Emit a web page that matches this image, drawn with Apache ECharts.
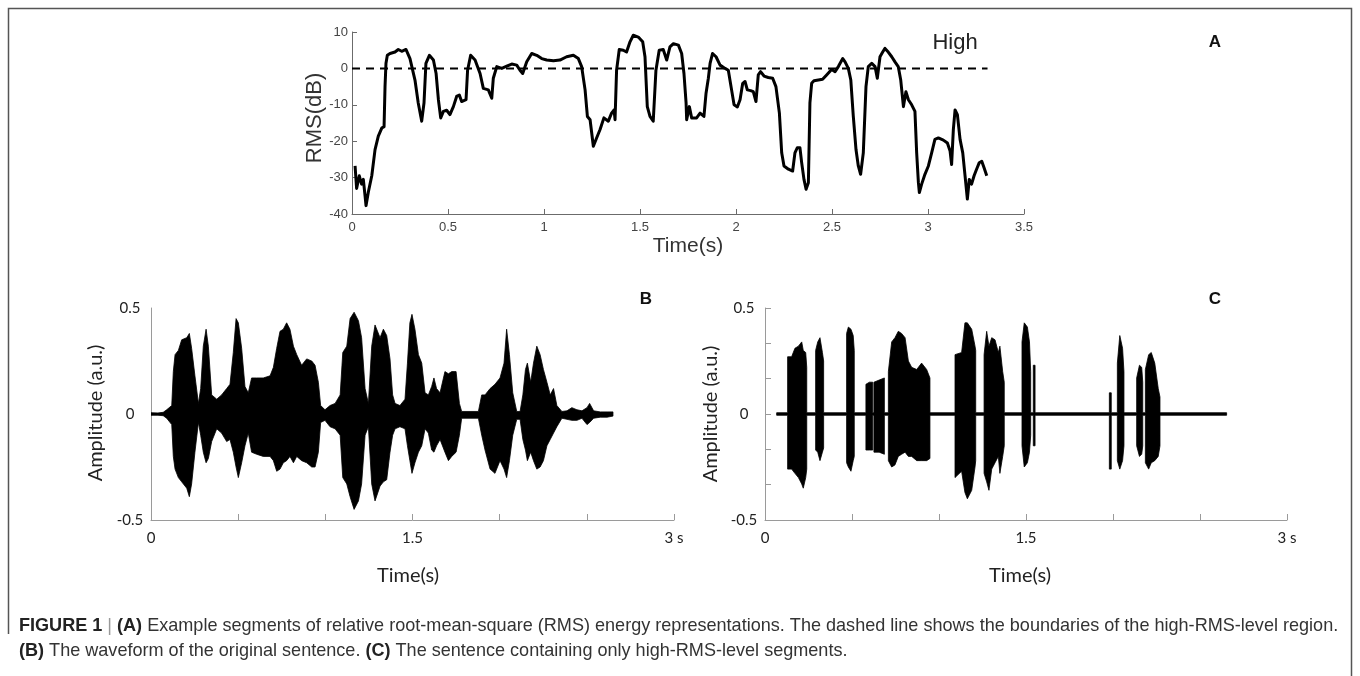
<!DOCTYPE html>
<html><head><meta charset="utf-8">
<script src="https://cdn.jsdelivr.net/npm/echarts@6/dist/echarts.min.js"></script>
<style>html,body{margin:0;padding:0;background:#fff}#c{width:1360px;height:676px}</style>
</head><body><div id="c"></div>
<script>
// ---- Panel A: RMS (dB) over time ----
const rmsTime = [0.016,0.024,0.038,0.05,0.059,0.068,0.073,0.085,0.103,0.12,0.137,0.155,0.167,0.172,0.177,0.184,0.198,0.224,0.241,0.259,0.281,0.302,0.328,0.345,0.363,0.375,0.385,0.403,0.424,0.438,0.45,0.462,0.476,0.493,0.51,0.528,0.545,0.559,0.571,0.594,0.602,0.618,0.641,0.667,0.684,0.71,0.728,0.736,0.754,0.78,0.806,0.832,0.858,0.875,0.889,0.91,0.936,0.962,0.988,1.014,1.049,1.083,1.118,1.153,1.179,1.196,1.214,1.226,1.24,1.257,1.274,1.292,1.312,1.335,1.352,1.365,1.37,1.378,1.392,1.413,1.43,1.448,1.465,1.491,1.514,1.526,1.538,1.552,1.569,1.583,1.6,1.621,1.639,1.656,1.674,1.7,1.717,1.729,1.74,1.743,1.757,1.769,1.795,1.813,1.833,1.844,1.856,1.865,1.878,1.896,1.917,1.943,1.96,1.977,1.99,2.007,2.021,2.035,2.047,2.059,2.076,2.09,2.104,2.116,2.128,2.146,2.168,2.191,2.208,2.226,2.238,2.25,2.273,2.295,2.307,2.319,2.333,2.342,2.354,2.365,2.377,2.385,2.394,2.406,2.429,2.451,2.472,2.498,2.516,2.533,2.556,2.568,2.585,2.598,2.611,2.625,2.637,2.649,2.663,2.677,2.689,2.707,2.724,2.736,2.75,2.764,2.776,2.793,2.811,2.828,2.845,2.858,2.872,2.885,2.898,2.915,2.932,2.941,2.95,2.955,2.967,2.984,3.002,3.019,3.036,3.054,3.08,3.101,3.115,3.123,3.132,3.141,3.153,3.167,3.181,3.193,3.205,3.215,3.227,3.24,3.253,3.267,3.28,3.292,3.306];
const rmsDb = [-26.8,-33,-29.5,-31.8,-30.5,-35,-37.7,-34,-29.5,-22.3,-18.6,-16.4,-16,-5,1.4,3.6,4.1,4.5,5.2,4.7,5.2,2.7,-3.2,-9.5,-14.5,-9.5,1.4,3.6,2.3,-1.4,-8.6,-13.6,-11.8,-11.5,-12.7,-10.5,-7.7,-7.3,-9.1,-8.6,-0.5,3.6,2.3,-1.4,-5.5,-5.9,-8.2,-2.7,0.5,0,0.6,1.2,0.9,-0.5,-1.4,1.8,4.1,3.6,2.7,2.3,2.1,2.3,3.2,3.6,2.7,0.5,-5.9,-13.2,-14.1,-21.4,-19.1,-16.8,-13.6,-14.5,-12.3,-11.4,-14.1,-0.5,5.2,5,4.5,7.3,9.1,8.6,7.3,3.2,-10.5,-13.2,-14.5,-0.5,5,5.2,2.3,5.9,6.8,6.4,4.1,-1.4,-9.5,-14.1,-10.5,-13.6,-13.6,-12.3,-13.2,-6.8,-2.7,1.4,4.1,3.2,0.9,0,-0.5,-5.9,-10,-10.6,-8.6,-4.1,-3.6,-5.9,-6.1,-6.4,-9.1,-1.8,-0.9,-2.1,-2.5,-2.7,-5,-12.3,-23.2,-26.8,-27.7,-28.2,-23.2,-21.8,-21.8,-25.9,-30.5,-33.2,-31.4,-9.5,-4.1,-3.4,-3.2,-3,-1.8,-0.3,-0.9,0.5,2.7,1.8,0,-3.2,-13.2,-22.3,-26.8,-29.1,-23.2,-5,0.5,1.4,0.5,-2.7,3.2,4.5,5.5,4.5,3.2,1.8,0.5,-3.2,-10.5,-6.4,-8.6,-10,-11.8,-23.2,-31.4,-34.1,-31.8,-29.1,-26.8,-23.2,-19.5,-19.1,-19.7,-20.5,-22.7,-26.4,-16.8,-11.4,-12.7,-19.5,-23.2,-29.5,-35.9,-30.5,-31.8,-29.5,-27.7,-25.9,-25.5,-27.3,-29.5];
const highThresholdDb = 0;
const highThresholdSpan = [0, 3.31];
const rmsXTicks = {min: 0, max: 3.5, step: 0.5};
const rmsYTicks = {min: -40, max: 10, step: 10};

// ---- Panel B: original waveform envelope (upper / lower) ----
const bTime  = [0,0.04,0.07,0.09,0.119,0.128,0.138,0.157,0.176,0.205,0.22,0.233,0.252,0.272,0.285,0.3,0.316,0.329,0.348,0.377,0.405,0.434,0.453,0.472,0.488,0.501,0.52,0.539,0.558,0.577,0.606,0.644,0.683,0.702,0.721,0.74,0.759,0.778,0.797,0.817,0.836,0.864,0.893,0.922,0.941,0.96,0.973,0.998,1.027,1.056,1.085,1.1,1.123,1.142,1.165,1.19,1.208,1.228,1.247,1.266,1.285,1.314,1.333,1.352,1.371,1.386,1.4,1.428,1.457,1.471,1.485,1.497,1.514,1.534,1.553,1.572,1.591,1.61,1.623,1.638,1.658,1.686,1.706,1.725,1.75,1.769,1.782,1.83,1.878,1.897,1.916,1.945,1.973,2.002,2.025,2.04,2.056,2.075,2.098,2.117,2.133,2.148,2.159,2.178,2.194,2.213,2.232,2.251,2.271,2.29,2.309,2.328,2.357,2.386,2.414,2.443,2.472,2.501,2.516,2.539,2.577,2.616,2.65];
const bUpper = [0.006,0.005,0.008,0.02,0.04,0.2,0.28,0.30,0.35,0.36,0.38,0.31,0.18,0.05,0.12,0.32,0.40,0.32,0.09,0.07,0.09,0.12,0.14,0.29,0.45,0.43,0.31,0.13,0.10,0.17,0.17,0.17,0.18,0.22,0.31,0.39,0.40,0.43,0.40,0.32,0.28,0.23,0.26,0.25,0.23,0.15,0.04,0.02,0.04,0.05,0.09,0.29,0.32,0.45,0.48,0.44,0.36,0.12,0.05,0.32,0.42,0.36,0.40,0.37,0.26,0.09,0.05,0.04,0.07,0.24,0.43,0.47,0.40,0.28,0.24,0.10,0.09,0.13,0.17,0.12,0.10,0.20,0.19,0.20,0.20,0.05,0.012,0.012,0.012,0.09,0.09,0.12,0.14,0.17,0.24,0.40,0.28,0.10,0.012,0.012,0.09,0.21,0.24,0.15,0.24,0.32,0.28,0.21,0.15,0.09,0.12,0.04,0.012,0.015,0.03,0.02,0.015,0.03,0.05,0.015,0.01,0.01,0.01];
const bLower = [-0.006,-0.006,-0.008,-0.02,-0.05,-0.2,-0.26,-0.30,-0.32,-0.35,-0.39,-0.33,-0.18,-0.04,-0.10,-0.18,-0.23,-0.21,-0.13,-0.07,-0.09,-0.13,-0.12,-0.18,-0.25,-0.30,-0.23,-0.15,-0.09,-0.18,-0.19,-0.20,-0.20,-0.22,-0.27,-0.26,-0.23,-0.22,-0.20,-0.23,-0.20,-0.22,-0.23,-0.25,-0.25,-0.18,-0.04,-0.03,-0.06,-0.07,-0.10,-0.30,-0.33,-0.39,-0.45,-0.41,-0.33,-0.10,-0.06,-0.33,-0.41,-0.34,-0.32,-0.31,-0.18,-0.10,-0.07,-0.06,-0.07,-0.15,-0.22,-0.28,-0.23,-0.18,-0.15,-0.07,-0.09,-0.17,-0.18,-0.15,-0.12,-0.18,-0.22,-0.20,-0.18,-0.10,-0.02,-0.02,-0.02,-0.10,-0.17,-0.26,-0.28,-0.22,-0.26,-0.30,-0.22,-0.10,-0.025,-0.025,-0.12,-0.17,-0.22,-0.18,-0.22,-0.26,-0.25,-0.22,-0.15,-0.12,-0.09,-0.06,-0.02,-0.025,-0.03,-0.03,-0.02,-0.05,-0.04,-0.02,-0.015,-0.015,-0.01];

// ---- Panel C: high-RMS-only waveform envelope (upper / lower) ----
const cTime  = [0.067,0.13,0.13,0.153,0.172,0.192,0.211,0.22,0.234,0.24,0.24,0.291,0.291,0.303,0.316,0.33,0.337,0.337,0.469,0.469,0.479,0.494,0.507,0.513,0.513,0.58,0.58,0.60,0.619,0.619,0.626,0.626,0.656,0.686,0.686,0.709,0.709,0.728,0.747,0.766,0.785,0.805,0.824,0.843,0.872,0.90,0.929,0.948,0.948,1.092,1.092,1.13,1.149,1.163,1.188,1.207,1.211,1.211,1.259,1.259,1.274,1.287,1.303,1.322,1.341,1.35,1.366,1.375,1.375,1.477,1.477,1.49,1.508,1.52,1.527,1.527,1.542,1.542,1.552,1.552,1.979,1.979,1.99,1.99,2.025,2.025,2.039,2.055,2.063,2.063,2.136,2.136,2.152,2.165,2.171,2.171,2.186,2.186,2.205,2.22,2.24,2.26,2.27,2.27,2.653];
const cUpper = [0.006,0.006,0.27,0.27,0.31,0.32,0.34,0.30,0.29,0.22,0.006,0.006,0.30,0.34,0.36,0.29,0.25,0.006,0.006,0.38,0.41,0.40,0.37,0.30,0.006,0.006,0.14,0.15,0.15,0.006,0.006,0.15,0.16,0.17,0.006,0.006,0.20,0.34,0.36,0.39,0.38,0.36,0.25,0.22,0.21,0.24,0.21,0.17,0.006,0.006,0.28,0.29,0.43,0.43,0.40,0.32,0.30,0.006,0.006,0.28,0.39,0.32,0.36,0.35,0.29,0.32,0.20,0.15,0.006,0.006,0.34,0.43,0.41,0.34,0.20,0.006,0.006,0.23,0.23,0.006,0.006,0.10,0.10,0.006,0.006,0.24,0.37,0.31,0.20,0.006,0.006,0.17,0.23,0.22,0.15,0.006,0.006,0.21,0.28,0.29,0.24,0.12,0.08,0.006,0.006];
const cLower = [-0.006,-0.006,-0.26,-0.26,-0.28,-0.30,-0.33,-0.35,-0.30,-0.26,-0.006,-0.006,-0.17,-0.18,-0.22,-0.18,-0.16,-0.006,-0.006,-0.23,-0.25,-0.27,-0.22,-0.20,-0.006,-0.006,-0.17,-0.17,-0.17,-0.006,-0.006,-0.18,-0.18,-0.19,-0.006,-0.006,-0.22,-0.25,-0.24,-0.20,-0.19,-0.18,-0.20,-0.20,-0.22,-0.22,-0.22,-0.21,-0.006,-0.006,-0.30,-0.27,-0.37,-0.40,-0.36,-0.25,-0.22,-0.006,-0.006,-0.28,-0.32,-0.36,-0.26,-0.23,-0.20,-0.28,-0.20,-0.15,-0.006,-0.006,-0.15,-0.25,-0.23,-0.18,-0.10,-0.006,-0.006,-0.15,-0.15,-0.006,-0.006,-0.26,-0.26,-0.006,-0.006,-0.22,-0.26,-0.22,-0.15,-0.006,-0.006,-0.15,-0.20,-0.19,-0.15,-0.006,-0.006,-0.23,-0.26,-0.23,-0.22,-0.20,-0.15,-0.006,-0.006];

// ---- Tick labels for the waveform panels ----
const waveXLabelValues = [0, 1.5, 3];
const waveXLabelTexts  = ['0', '1.5', '3 s'];
const ampLabelValues = [0.5, 0, -0.5];
const ampLabelTexts  = ['0.5', '0', '-0.5'];

// ---- Texts ----
const panelLetters = ['A', 'B', 'C'];
const rmsYName = 'RMS(dB)';
const timeName = 'Time(s)';
const ampName = 'Amplitude (a.u.)';
const highLabel = 'High';
const captionLine1 = '{b|FIGURE 1} {bar||} {b|(A)} Example segments of relative root-mean-square (RMS) energy representations. The dashed line shows the boundaries of the high-RMS-level region.';
const captionLine2 = '{b|(B)} The waveform of the original sentence. {b|(C)} The sentence containing only high-RMS-level segments.';

const zip = (xs, ys) => xs.map((x, i) => [x, ys[i]]);
const pickLabel = (vals, texts) => v => {
  for (let i = 0; i < vals.length; i++) if (Math.abs(v - vals[i]) < 1e-6) return texts[i];
  return '';
};

const chart = echarts.init(document.getElementById('c'), null, {renderer: 'canvas', width: 1360, height: 676});

const aAxisCol = '#6b6b6b';
const wAxisCol = '#9a9a9a';
const armsFont = 'Liberation Sans, Arial, sans-serif';
const waveFont = 'Lato, "Open Sans", sans-serif';
const capFont = '"Liberation Sans", Arial, sans-serif';
const capSize = 19;

// caption horizontal scaling so that line 1 spans the caption width
const capCtx = document.createElement('canvas').getContext('2d');
capCtx.font = capSize + 'px "Liberation Sans"';
const capPlain = captionLine1.replace(/\{\w+\|([^}]*)\}/g, '$1');
const capScale = 1338 / (capCtx.measureText(capPlain).width * 1.015);

const waveX = (gi) => ({
  type: 'value', gridIndex: gi, min: 0, max: 3, interval: 0.5,
  axisLine: {show: true, onZero: false, lineStyle: {color: wAxisCol, width: 1}},
  axisTick: {show: true, inside: true, length: 6, lineStyle: {color: wAxisCol}},
  axisLabel: {show: true, formatter: pickLabel(waveXLabelValues, waveXLabelTexts), fontFamily: waveFont, fontSize: 15, color: '#222', margin: 11, showMinLabel: true, showMaxLabel: true},
  splitLine: {show: false}
});
const waveY = (gi, interval, ticks) => ({
  type: 'value', gridIndex: gi, min: -0.5, max: 0.5, interval: interval,
  axisLine: {show: true, onZero: false, lineStyle: {color: wAxisCol, width: 1}},
  axisTick: {show: ticks, inside: true, length: 6, lineStyle: {color: wAxisCol}},
  axisLabel: {show: true, formatter: pickLabel(ampLabelValues, ampLabelTexts), fontFamily: waveFont, fontSize: 15, color: '#222', margin: 21, align: 'center', showMinLabel: true, showMaxLabel: true},
  splitLine: {show: false}
});
// filled envelope: upper points forward, lower points backward, all through the axis scales
const envSeries = (axis, t, up, lo) => ({
  type: 'custom', xAxisIndex: axis, yAxisIndex: axis,
  data: t.map((x, i) => [x, up[i], lo[i]]),
  encode: {x: 0, y: [1, 2]},
  silent: true, clip: true,
  renderItem: (params, api) => {
    if (params.dataIndex !== 0) return null;
    const pts = [];
    for (let i = 0; i < t.length; i++) pts.push(api.coord([t[i], up[i]]));
    for (let i = t.length - 1; i >= 0; i--) pts.push(api.coord([t[i], lo[i]]));
    return {type: 'polygon', shape: {points: pts}, style: {fill: '#000', stroke: '#000', lineWidth: 0.8, lineJoin: 'round'}};
  }
});

const option = {
  backgroundColor: '#fff',
  animation: false,
  grid: [
    {left: 352, top: 32, width: 672, height: 182},
    {left: 151, top: 308, width: 523, height: 212},
    {left: 765, top: 308, width: 522, height: 212}
  ],
  xAxis: [
    {type: 'value', gridIndex: 0, min: rmsXTicks.min, max: rmsXTicks.max, interval: rmsXTicks.step,
     axisLine: {show: true, onZero: false, lineStyle: {color: aAxisCol, width: 1}},
     axisTick: {show: true, inside: true, length: 5, lineStyle: {color: aAxisCol}},
     axisLabel: {fontFamily: armsFont, fontSize: 13, color: '#444', margin: 7},
     splitLine: {show: false}},
    waveX(1), waveX(2)
  ],
  yAxis: [
    {type: 'value', gridIndex: 0, min: rmsYTicks.min, max: rmsYTicks.max, interval: rmsYTicks.step,
     axisLine: {show: true, onZero: false, lineStyle: {color: aAxisCol, width: 1}},
     axisTick: {show: true, inside: true, length: 5, lineStyle: {color: aAxisCol}},
     axisLabel: {fontFamily: armsFont, fontSize: 13, color: '#444', margin: 4},
     splitLine: {show: false}},
    waveY(1, 0.5, false),
    waveY(2, 1 / 6, true)
  ],
  series: [
    {type: 'line', xAxisIndex: 0, yAxisIndex: 0, data: zip(highThresholdSpan, highThresholdSpan.map(() => highThresholdDb)),
     symbol: 'none', lineStyle: {color: '#000', width: 2, type: [8, 6]}, silent: true, z: 2},
    {type: 'line', xAxisIndex: 0, yAxisIndex: 0, data: zip(rmsTime, rmsDb),
     symbol: 'none', showSymbol: false, lineStyle: {color: '#000', width: 3, join: 'round'}, silent: true, z: 3},
    envSeries(1, bTime, bUpper, bLower),
    envSeries(2, cTime, cUpper, cLower)
  ],
  graphic: [
    {type: 'polyline', shape: {points: [[8.5, 634], [8.5, 8.5], [1351.5, 8.5], [1351.5, 676]]}, style: {stroke: '#555', lineWidth: 1.5, fill: null}, silent: true},
    {type: 'text', x: 315, y: 118, rotation: Math.PI / 2, style: {text: rmsYName, fontFamily: armsFont, fontSize: 22, fill: '#333', align: 'center', verticalAlign: 'middle'}},
    {type: 'text', x: 688, y: 246, style: {text: timeName, fontFamily: armsFont, fontSize: 21, fill: '#333', align: 'center', verticalAlign: 'middle'}},
    {type: 'text', x: 955, y: 43, style: {text: highLabel, fontFamily: armsFont, fontSize: 22, fill: '#222', align: 'center', verticalAlign: 'middle'}},
    {type: 'text', x: 1215, y: 42, style: {text: panelLetters[0], fontFamily: armsFont, fontSize: 17, fontWeight: 'bold', fill: '#111', align: 'center', verticalAlign: 'middle'}},
    {type: 'text', x: 96, y: 413, rotation: Math.PI / 2, style: {text: ampName, fontFamily: waveFont, fontSize: 20, fill: '#222', align: 'center', verticalAlign: 'middle'}},
    {type: 'text', x: 408, y: 576, style: {text: timeName, fontFamily: waveFont, fontSize: 20, fill: '#222', align: 'center', verticalAlign: 'middle'}},
    {type: 'text', x: 646, y: 299, style: {text: panelLetters[1], fontFamily: armsFont, fontSize: 17, fontWeight: 'bold', fill: '#111', align: 'center', verticalAlign: 'middle'}},
    {type: 'text', x: 711, y: 414, rotation: Math.PI / 2, style: {text: ampName, fontFamily: waveFont, fontSize: 20, fill: '#222', align: 'center', verticalAlign: 'middle'}},
    {type: 'text', x: 1020, y: 576, style: {text: timeName, fontFamily: waveFont, fontSize: 20, fill: '#222', align: 'center', verticalAlign: 'middle'}},
    {type: 'text', x: 1215, y: 299, style: {text: panelLetters[2], fontFamily: armsFont, fontSize: 17, fontWeight: 'bold', fill: '#111', align: 'center', verticalAlign: 'middle'}},
    {type: 'text', x: 19, y: 626, scaleX: capScale, style: {text: captionLine1, fontFamily: capFont, fontSize: capSize, fill: '#333', align: 'left', verticalAlign: 'middle',
      rich: {b: {fontFamily: capFont, fontSize: capSize, fontWeight: 'bold', fill: '#222'}, bar: {fontFamily: capFont, fontSize: capSize, fill: '#999'}}}},
    {type: 'text', x: 19, y: 651, scaleX: capScale, style: {text: captionLine2, fontFamily: capFont, fontSize: capSize, fill: '#333', align: 'left', verticalAlign: 'middle',
      rich: {b: {fontFamily: capFont, fontSize: capSize, fontWeight: 'bold', fill: '#222'}}}}
  ]
};
chart.setOption(option);
</script>
</body></html>
